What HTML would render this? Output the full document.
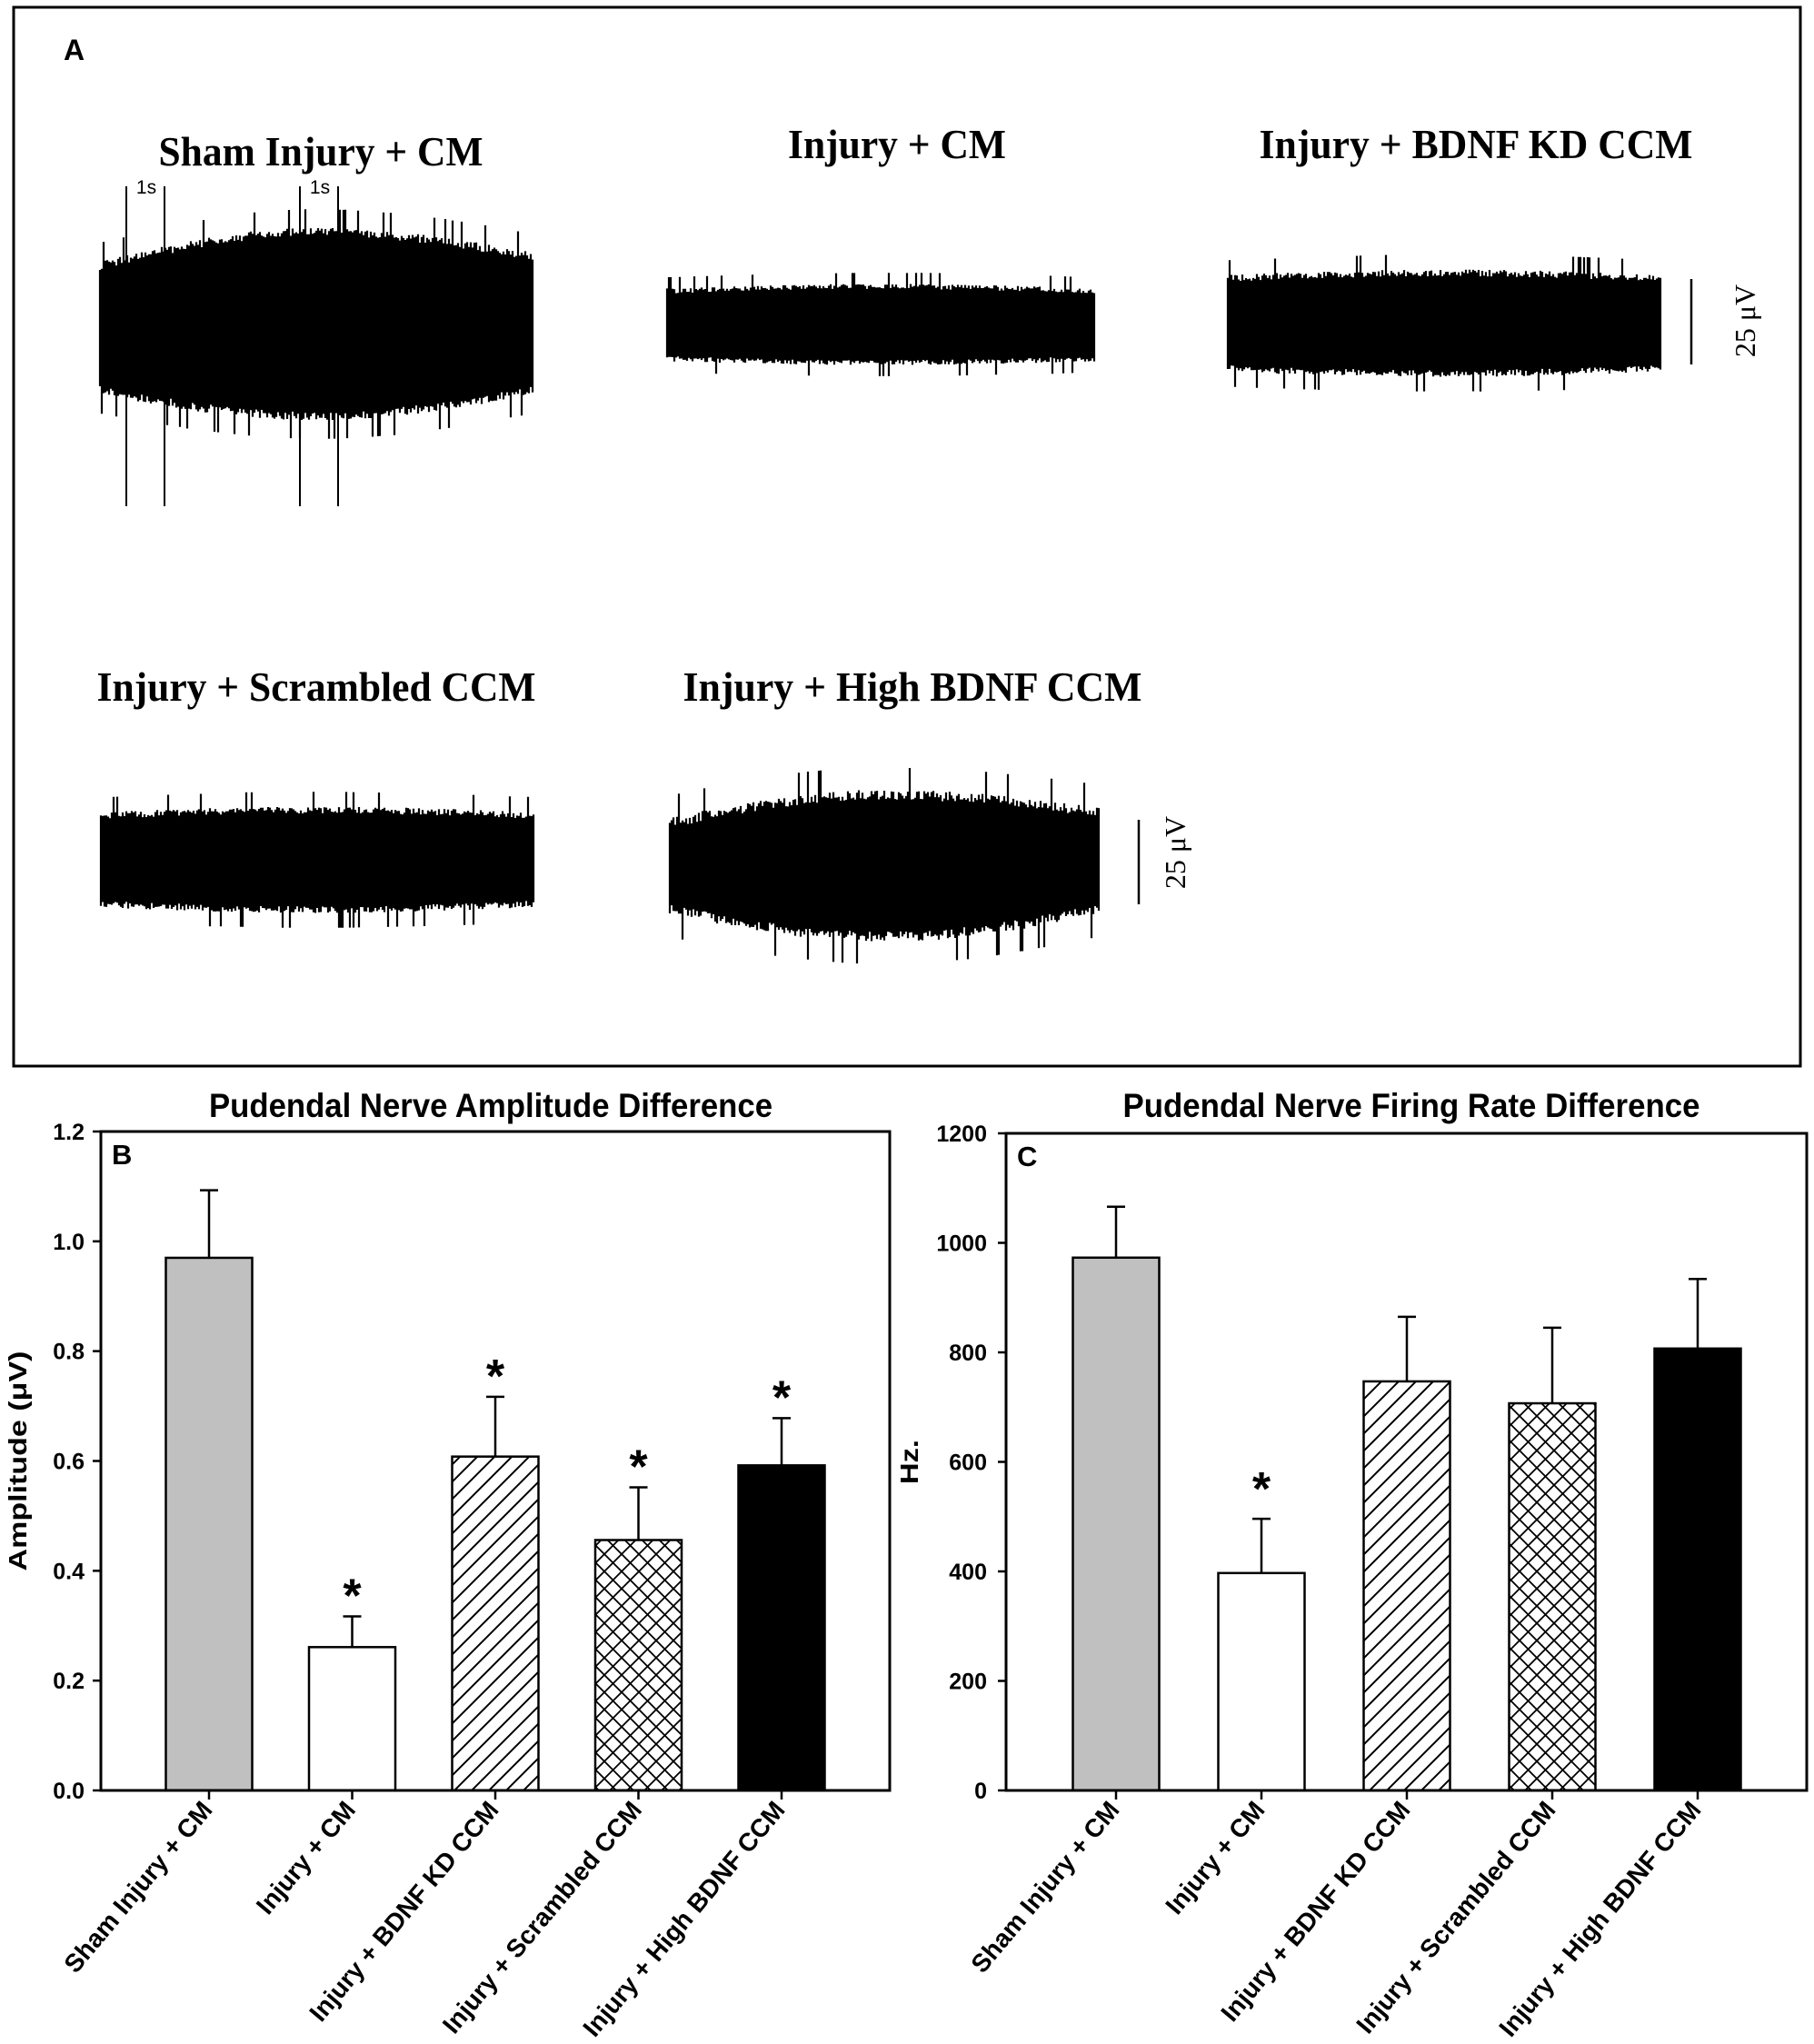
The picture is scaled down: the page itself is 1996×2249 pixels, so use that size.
<!DOCTYPE html>
<html><head><meta charset="utf-8"><title>Pudendal nerve figure</title>
<style>
html,body{margin:0;padding:0;background:#fff;}
svg{display:block;}
.sans{font-family:"Liberation Sans",Arial,sans-serif;font-weight:bold;}
.serif{font-family:"Liberation Serif","Times New Roman",serif;}
</style></head>
<body>
<svg id="fig" width="1996" height="2249" viewBox="0 0 1996 2249" xmlns="http://www.w3.org/2000/svg">
<defs>
<pattern id="diag" patternUnits="userSpaceOnUse" width="19" height="19">
<path d="M-2,21 L21,-2 M-5,5 L5,-5 M14,24 L24,14" stroke="#000" stroke-width="2"/>
</pattern>
<pattern id="cross" patternUnits="userSpaceOnUse" width="19" height="19">
<path d="M0,0 L19,19 M19,0 L0,19" stroke="#000" stroke-width="1.8"/>
</pattern>
</defs>
<rect x="15" y="8" width="1966" height="1165" fill="none" stroke="#000" stroke-width="3"/>
<text class="sans" x="70" y="66" font-size="32">A</text>

<text class="serif" font-weight="bold" x="353" y="182" font-size="46" text-anchor="middle" textLength="357" lengthAdjust="spacingAndGlyphs">Sham Injury + CM</text>
<text class="serif" font-weight="bold" x="987" y="174" font-size="46" text-anchor="middle" textLength="240" lengthAdjust="spacingAndGlyphs">Injury + CM</text>
<text class="serif" font-weight="bold" x="1624" y="174" font-size="46" text-anchor="middle" textLength="477" lengthAdjust="spacingAndGlyphs">Injury + BDNF KD CCM</text>
<text class="serif" font-weight="bold" x="348" y="771" font-size="46" text-anchor="middle" textLength="483" lengthAdjust="spacingAndGlyphs">Injury + Scrambled CCM</text>
<text class="serif" font-weight="bold" x="1004" y="771" font-size="46" text-anchor="middle" textLength="505" lengthAdjust="spacingAndGlyphs">Injury + High BDNF CCM</text>

<g id="traces"></g>

<g stroke="#000" stroke-width="2">
<line x1="139" y1="205" x2="139" y2="557"/><line x1="181" y1="205" x2="181" y2="557"/>
<line x1="330" y1="205" x2="330" y2="557"/><line x1="372" y1="205" x2="372" y2="557"/>
</g>
<text font-family="Liberation Sans,sans-serif" x="161" y="213" font-size="21" text-anchor="middle">1s</text>
<text font-family="Liberation Sans,sans-serif" x="352" y="213" font-size="21" text-anchor="middle">1s</text>

<line x1="1861" y1="307" x2="1861" y2="401" stroke="#000" stroke-width="2.5"/>
<text class="serif" font-size="32" text-anchor="middle" transform="translate(1931,353) rotate(-90)">25 μV</text>
<line x1="1253" y1="902" x2="1253" y2="995" stroke="#000" stroke-width="2.5"/>
<text class="serif" font-size="32" text-anchor="middle" transform="translate(1304,938) rotate(-90)">25 μV</text>

<g id="chartB"></g>
<g id="chartC"></g>
</svg>
<script>
const NS='http://www.w3.org/2000/svg';
const categories=['Sham Injury + CM','Injury + CM','Injury + BDNF KD CCM','Injury + Scrambled CCM','Injury + High BDNF CCM'];
const ampValues=[0.970,0.261,0.608,0.456,0.592];
const ampErrors=[0.123,0.056,0.109,0.096,0.086];
const ampStars=[false,true,true,true,true];
const ampTicks=[0,0.2,0.4,0.6,0.8,1.0,1.2];
const ampTickLabels=['0.0','0.2','0.4','0.6','0.8','1.0','1.2'];
const rateValues=[973,397,747,707,807];
const rateErrors=[93,99,118,138,127];
const rateStars=[false,true,false,false,false];
const rateTicks=[0,200,400,600,800,1000,1200];
const rateTickLabels=['0','200','400','600','800','1000','1200'];
const fills=['#c0c0c0','#ffffff','url(#diag)','url(#cross)','#000000'];

function mk(tag,attrs,parent){const e=document.createElementNS(NS,tag);for(const k in attrs)e.setAttribute(k,attrs[k]);parent.appendChild(e);return e;}

function drawChart(g,cfg){
  const yS=v=>cfg.bottom-(v/cfg.max)*(cfg.bottom-cfg.top);
  const xC=i=>cfg.left+cfg.off+i*cfg.step;
  const bw=95;
  cfg.values.forEach((v,i)=>{
    const cx=xC(i), yt=yS(v+cfg.errors[i]);
    const el=mk('line',{x1:cx,y1:yS(v),x2:cx,y2:yt,stroke:'#000','stroke-width':2.5},g);
    
    
    const cap=mk('line',{x1:cx-10,y1:yt,x2:cx+10,y2:yt,stroke:'#000','stroke-width':2.5},g);
    
    
    const r=mk('rect',{x:cx-bw/2,y:yS(v),width:bw,height:cfg.bottom-yS(v),fill:fills[i],stroke:'#000','stroke-width':2.5},g);
    
    
    if(cfg.stars[i]){
      const s=mk('text',{x:cx,y:yt-cfg.starGap,'text-anchor':'middle','font-size':52,class:'sans'},g);
      s.textContent='*';
      
      
    }
    const t=mk('line',{x1:cx,y1:cfg.bottom,x2:cx,y2:cfg.bottom+10,stroke:'#000','stroke-width':2.5},g);
    
    
    const lb=mk('text',{'text-anchor':'end','font-size':28,class:'sans',transform:'translate('+(cx+5)+','+(cfg.bottom+22)+') rotate(-50)'},g);
    lb.textContent=categories[i];
    
    
  });
  const f=mk('rect',{x:cfg.left,y:cfg.top,width:cfg.right-cfg.left,height:cfg.bottom-cfg.top,fill:'none',stroke:'#000','stroke-width':3},g);
  
  
  cfg.ticks.forEach((v,i)=>{
    const y=yS(v);
    const t=mk('line',{x1:cfg.left-9,y1:y,x2:cfg.left,y2:y,stroke:'#000','stroke-width':2.5},g);
    
    
    const l=mk('text',{x:cfg.labelX,y:y+9,'text-anchor':'end','font-size':25,class:'sans'},g);
    l.textContent=cfg.tickLabels[i];
    
    
  });
  const ti=mk('text',{x:cfg.titleX,y:1229,'text-anchor':'middle','font-size':37,class:'sans',textLength:cfg.titleLen,lengthAdjust:'spacingAndGlyphs'},g);
  ti.textContent=cfg.title;
  
  
  const pl=mk('text',{x:cfg.left+12,y:cfg.top+36,'font-size':31,class:'sans'},g);
  pl.textContent=cfg.panel;
  
  
  const yt=mk('text',{'text-anchor':'middle','font-size':28,class:'sans',transform:'translate('+cfg.yTitleX+','+((cfg.top+cfg.bottom)/2)+') rotate(-90)',textLength:cfg.yTitleLen,lengthAdjust:'spacingAndGlyphs'},g);
  yt.textContent=cfg.yTitle;
  
  
}

drawChart(document.getElementById('chartB'),{left:111,right:979,top:1245,bottom:1970,max:1.2,off:119,step:157.5,
  values:ampValues,errors:ampErrors,stars:ampStars,ticks:ampTicks,tickLabels:ampTickLabels,labelX:93,starGap:5,
  title:'Pudendal Nerve Amplitude Difference',titleX:540,titleLen:620,panel:'B',yTitle:'Amplitude (μV)',yTitleX:29,yTitleLen:242});
drawChart(document.getElementById('chartC'),{left:1107,right:1988,top:1247,bottom:1970,max:1200,off:121,step:160,
  values:rateValues,errors:rateErrors,stars:rateStars,ticks:rateTicks,tickLabels:rateTickLabels,labelX:1086,starGap:15,
  title:'Pudendal Nerve Firing Rate Difference',titleX:1553,titleLen:635,panel:'C',yTitle:'Hz.',yTitleX:1010,yTitleLen:49});

const traceSpecs=[
 {name:'trace-sham',x0:110,x1:587,top:[297,260,287],bot:[425,453,425],j:10},
 {name:'trace-injury-cm',x0:734,x1:1205,top:[323,318,323],bot:[392,396,392],j:6},
 {name:'trace-bdnf-kd',x0:1351,x1:1828,top:[310,304,310],bot:[402,407,402],j:8},
 {name:'trace-scrambled',x0:111,x1:588,top:[901,895,901],bot:[991,997,991],j:8},
 {name:'trace-high-bdnf',x0:737,x1:1209,top:[911,880,899],bot:[995,1025,995],j:12}
];
function hash(n){const s=Math.sin(n*12.9898)*43758.5453;return s-Math.floor(s);}
const tg=document.getElementById('traces');
traceSpecs.forEach((t,k)=>{
  let d='';
  const env=(arr,u)=>u<0.5?arr[0]+(arr[1]-arr[0])*Math.sin(u*Math.PI):arr[2]+(arr[1]-arr[2])*Math.sin(u*Math.PI);
  for(let x=t.x0,i=0;x<=t.x1;x+=2,i++){
    const u=(x-t.x0)/(t.x1-t.x0);
    let a=hash(i*3.1+k*101), b=hash(i*7.7+k*57);
    let up=a*t.j, dn=b*t.j;
    if(a>0.94) up+=t.j*2; if(b>0.94) dn+=t.j*2;
    d+='M'+x+' '+(env(t.top,u)-up).toFixed(1)+'V'+(env(t.bot,u)+dn).toFixed(1);
  }
  const p=document.createElementNS(NS,'path');
  p.setAttribute('d',d);p.setAttribute('stroke','#000');p.setAttribute('stroke-width','2.2');p.setAttribute('fill','none');
  
  
  tg.appendChild(p);
  const r=document.createElementNS(NS,'rect');
  r.setAttribute('x',t.x0);r.setAttribute('y',Math.max(t.top[0],t.top[1],t.top[2]));
  r.setAttribute('width',t.x1-t.x0);r.setAttribute('height',Math.min(t.bot[0],t.bot[1],t.bot[2])-Math.max(t.top[0],t.top[1],t.top[2]));
  r.setAttribute('fill','#000');
  
  
  tg.appendChild(r);
});
</script>
</body></html>
